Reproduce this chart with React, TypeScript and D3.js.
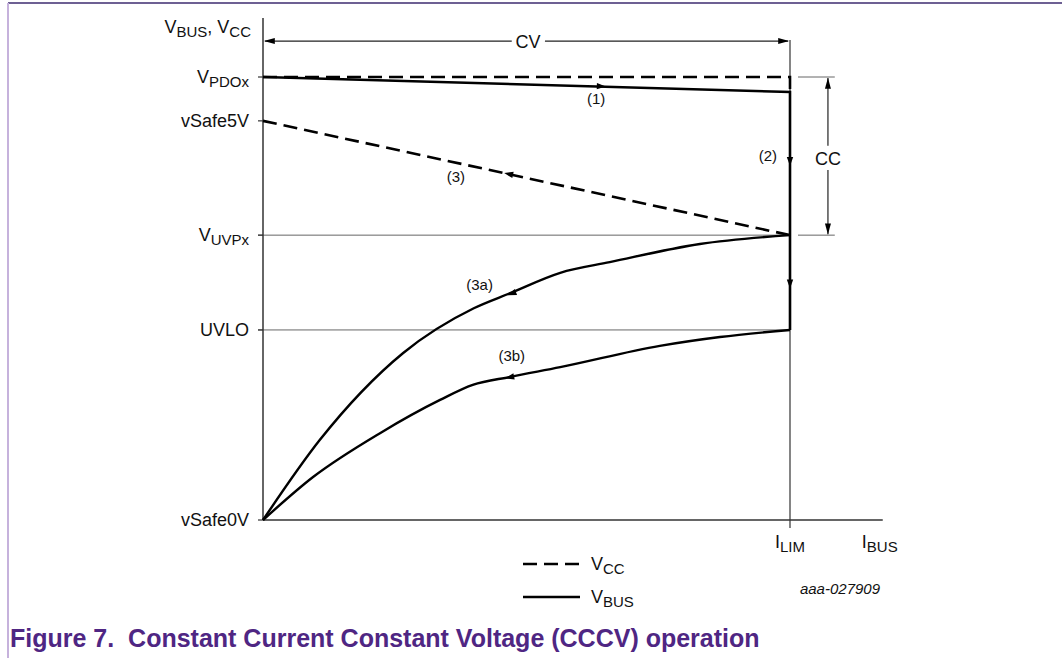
import React from "react";
import * as d3 from "d3";

// ---- data (normalised current / voltage units) ----
const levelNames = ["vSafe0V", "UVLO", "VUVPx", "vSafe5V", "VPDOx"];
const levelMain = ["vSafe0V", "UVLO", "V", "vSafe5V", "V"];
const levelSub = ["", "", "UVPx", "", "PDOx"];
const levelValues = [0, 0.429, 0.643, 0.901, 1.0];

const iLim = 1.0;
const iBusEnd = 1.176;
const vBusCvEnd = 0.966; // V_BUS at I_LIM after CV droop (1)

// (3a) V_BUS recovery curve
const curve3aI = [0, 0.108, 0.266, 0.4, 0.469, 0.564, 0.658, 0.829, 1.0];
const curve3aV = [0, 0.181, 0.377, 0.478, 0.512, 0.558, 0.582, 0.623, 0.643];
// (3b) V_BUS recovery curve
const curve3bI = [0, 0.095, 0.222, 0.336, 0.398, 0.469, 0.564, 0.753, 0.867, 1.0];
const curve3bV = [0, 0.097, 0.196, 0.271, 0.305, 0.323, 0.345, 0.393, 0.413, 0.429];

const segLabels = ["(1)", "(2)", "(3)", "(3a)", "(3b)"];
const segLabelI = [0.632, 0.958, 0.366, 0.411, 0.472];
const segLabelV = [0.939, 0.811, 0.762, 0.52, 0.36];

const W = 1062;
const H = 658;
const FONT = "'Liberation Sans', Arial, Helvetica, sans-serif";
const PURPLE = "#4f2683";

const x = d3.scaleLinear().domain([0, 1]).range([263, 790]);
const y = d3.scaleLinear().domain([0, 1]).range([520, 77]);

const line = d3
  .line<[number, number]>()
  .x((d) => x(d[0]))
  .y((d) => y(d[1]));
const smooth = d3
  .line<[number, number]>()
  .x((d) => x(d[0]))
  .y((d) => y(d[1]))
  .curve(d3.curveMonotoneX);

function Arrow({ at, toward, len = 9, half = 3.2 }: { at: [number, number]; toward: [number, number]; len?: number; half?: number }) {
  const px = x(at[0]);
  const py = y(at[1]);
  const dx = x(toward[0]) - px;
  const dy = y(toward[1]) - py;
  const m = Math.hypot(dx, dy) || 1;
  const ux = dx / m;
  const uy = dy / m;
  const tipX = px + ux * len * 0.5;
  const tipY = py + uy * len * 0.5;
  const bx = px - ux * len * 0.5;
  const by = py - uy * len * 0.5;
  const pts = [
    [tipX, tipY],
    [bx - uy * half, by + ux * half],
    [bx + uy * half, by - ux * half],
  ];
  return <polygon points={pts.map((p) => p.join(",")).join(" ")} fill="#000" />;
}

function Label({ main, sub, px, py, anchor = "end", size = 18, subSize = 15 }: any) {
  return (
    <text x={px} y={py} textAnchor={anchor} fontSize={size} fontFamily={FONT} fill="#111">
      {main}
      {sub ? (
        <tspan fontSize={subSize} dy={4}>
          {sub}
        </tspan>
      ) : null}
    </text>
  );
}

export default function App() {
  const cvV = 1.081;
  const yTop = 1.133;
  const extEnd = 1.085;
  const ccI = 1.072;

  const pts3a: [number, number][] = curve3aI.map((d, i) => [d, curve3aV[i]]);
  const pts3b: [number, number][] = curve3bI.map((d, i) => [d, curve3bV[i]]);

  return (
    <div style={{ position: "absolute", left: 0, top: 0 }}>
      <svg width={W} height={H} style={{ display: "block", background: "#fff" }}>
        {/* frame */}
        <line x1={8} x2={W} y1={3} y2={3} stroke="#3d2b6f" strokeWidth={1.5} />
        <line x1={8} x2={8} y1={3} y2={H} stroke="#c6b2dc" strokeWidth={2} />

        {/* grid lines for VUVPx and UVLO */}
        <line x1={x(0) - 5} x2={x(iLim)} y1={y(levelValues[2])} y2={y(levelValues[2])} stroke="#666" strokeWidth={1} />
        <line x1={x(iLim) + 8} x2={x(extEnd)} y1={y(levelValues[2])} y2={y(levelValues[2])} stroke="#666" strokeWidth={1} />
        <line x1={x(0) - 5} x2={x(iLim)} y1={y(levelValues[1])} y2={y(levelValues[1])} stroke="#666" strokeWidth={1} />
        <line x1={x(iLim) + 8} x2={x(extEnd)} y1={y(levelValues[4])} y2={y(levelValues[4])} stroke="#666" strokeWidth={1} />

        {/* y ticks */}
        {levelValues.map((v, i) => (
          <line key={"t" + i} x1={x(0) - 5} x2={x(0)} y1={y(v)} y2={y(v)} stroke="#333" strokeWidth={1.2} />
        ))}

        {/* axes */}
        <line x1={x(0)} x2={x(0)} y1={y(yTop)} y2={y(0)} stroke="#333" strokeWidth={1.5} />
        <line x1={x(0)} x2={x(iBusEnd)} y1={y(0)} y2={y(0)} stroke="#333" strokeWidth={1.5} />
        <line x1={x(iLim)} x2={x(iLim)} y1={y(cvV) - 1} y2={y(0) + 8} stroke="#333" strokeWidth={1.2} />

        {/* CV dimension */}
        <line x1={x(0) + 2} x2={x(0.472)} y1={y(cvV)} y2={y(cvV)} stroke="#222" strokeWidth={1.2} />
        <line x1={x(0.535)} x2={x(iLim) - 2} y1={y(cvV)} y2={y(cvV)} stroke="#222" strokeWidth={1.2} />
        <Arrow at={[0.012, cvV]} toward={[0, cvV]} len={11} half={3} />
        <Arrow at={[iLim - 0.012, cvV]} toward={[iLim, cvV]} len={11} half={3} />
        <text x={x(0.503)} y={y(cvV) + 7} textAnchor="middle" fontSize={18} fontFamily={FONT} fill="#111">
          CV
        </text>

        {/* CC dimension */}
        <line x1={x(ccI)} x2={x(ccI)} y1={y(1) + 1} y2={y(0.845)} stroke="#222" strokeWidth={1.2} />
        <line x1={x(ccI)} x2={x(ccI)} y1={y(0.79)} y2={y(levelValues[2]) - 1} stroke="#222" strokeWidth={1.2} />
        <Arrow at={[ccI, 0.986]} toward={[ccI, 1.1]} len={11} half={3} />
        <Arrow at={[ccI, 0.657]} toward={[ccI, 0.5]} len={11} half={3} />
        <text x={x(ccI)} y={y(0.818) + 7} textAnchor="middle" fontSize={18} fontFamily={FONT} fill="#111">
          CC
        </text>

        {/* Vcc dashed lines */}
        <path
          d={line([[0, 1], [iLim, 1], [iLim, vBusCvEnd]]) || ""}
          fill="none"
          stroke="#000"
          strokeWidth={2.6}
          strokeDasharray="14 7"
        />
        <path
          d={line([[0, levelValues[3]], [iLim, levelValues[2]]]) || ""}
          fill="none"
          stroke="#000"
          strokeWidth={2.6}
          strokeDasharray="14 7"
        />

        {/* Vbus solid lines */}
        <path
          d={line([[0, 1], [iLim, vBusCvEnd], [iLim, levelValues[1]]]) || ""}
          fill="none"
          stroke="#000"
          strokeWidth={2.6}
          strokeLinejoin="miter"
        />
        <path d={smooth(pts3a) || ""} fill="none" stroke="#000" strokeWidth={2.4} />
        <path d={smooth(pts3b) || ""} fill="none" stroke="#000" strokeWidth={2.4} />

        {/* direction arrows */}
        <Arrow at={[0.642, 0.979]} toward={[1, vBusCvEnd]} />
        <Arrow at={[iLim, 0.809]} toward={[iLim, 0.5]} />
        <Arrow at={[iLim, 0.533]} toward={[iLim, 0.3]} />
        <Arrow at={[0.466, 0.781]} toward={[0, levelValues[3]]} />
        <Arrow at={[0.472, 0.511]} toward={[0.4, 0.478]} />
        <Arrow at={[0.468, 0.322]} toward={[0.398, 0.305]} />

        {/* segment labels */}
        {segLabels.map((t, i) => (
          <text key={t} x={x(segLabelI[i])} y={y(segLabelV[i])} textAnchor="middle" fontSize={15} fontFamily={FONT} fill="#111">
            {t}
          </text>
        ))}

        {/* y level labels */}
        {levelValues.map((v, i) => (
          <Label key={levelNames[i]} main={levelMain[i]} sub={levelSub[i]} px={x(0) - 14} py={y(v) + 6} />
        ))}

        {/* y axis title */}
        <text x={x(0) - 12} y={33} textAnchor="end" fontSize={18} fontFamily={FONT} fill="#111">
          V<tspan fontSize={15} dy={4}>BUS</tspan>
          <tspan dy={-4}>, V</tspan>
          <tspan fontSize={15} dy={4}>CC</tspan>
        </text>

        {/* x labels */}
        <Label main="I" sub="LIM" px={x(iLim)} py={y(0) + 28} anchor="middle" />
        <Label main="I" sub="BUS" px={x(iBusEnd) - 3} py={y(0) + 28} anchor="middle" />

        {/* legend */}
        <line x1={523} x2={580} y1={564} y2={564} stroke="#000" strokeWidth={2.6} strokeDasharray="14 7" />
        <Label main="V" sub="CC" px={591} py={570} anchor="start" />
        <line x1={523} x2={580} y1={597} y2={597} stroke="#000" strokeWidth={2.6} />
        <Label main="V" sub="BUS" px={591} py={603} anchor="start" />

        <text x={880} y={594} textAnchor="end" fontSize={15} fontStyle="italic" fontFamily={FONT} fill="#111">
          aaa-027909
        </text>

        {/* caption */}
        <text x={10} y={647} fontSize={25} fontWeight="bold" fontFamily={FONT} fill={PURPLE} xmlSpace="preserve">
          {"Figure 7.  Constant Current Constant Voltage (CCCV) operation"}
        </text>
      </svg>
    </div>
  );
}
